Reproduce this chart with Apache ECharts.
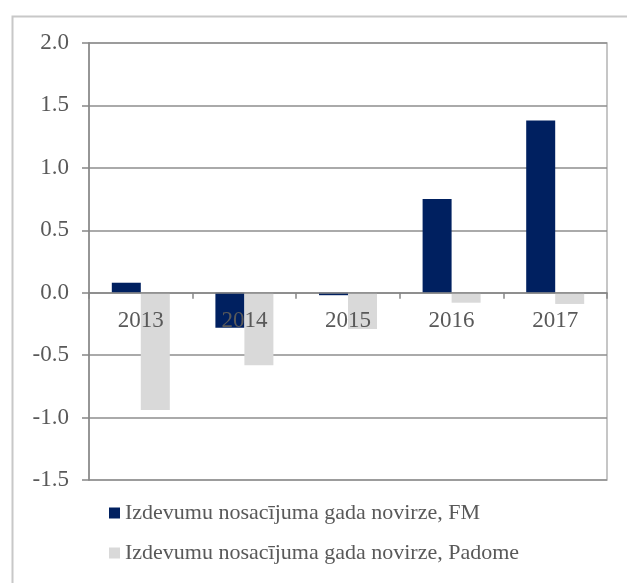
<!DOCTYPE html>
<html>
<head>
<meta charset="utf-8">
<script src="https://cdn.jsdelivr.net/npm/echarts@6/dist/echarts.min.js"></script>
<style>
html,body{margin:0;padding:0;background:#fff;}
#c{width:627px;height:583px;}
</style>
</head>
<body>
<div id="c"></div>
<script>
var categories = ['2013', '2014', '2015', '2016', '2017'];
var seriesNames = ['Izdevumu nosacījuma gada novirze, FM', 'Izdevumu nosacījuma gada novirze, Padome'];
var fmValues = [0.08, -0.28, -0.02, 0.75, 1.38];
var padomeValues = [-0.94, -0.58, -0.29, -0.08, -0.09];
var yMin = -1.5, yMax = 2.0, yStep = 0.5;

var font = 'Liberation Serif, Times New Roman, serif';
var chart = echarts.init(document.getElementById('c'), null, {renderer: 'canvas'});
var option = {
  animation: false,
  backgroundColor: '#ffffff',
  graphic: [{
    type: 'rect', left: 10, top: 14, z: 0,
    shape: {width: 700, height: 700},
    style: {fill: 'none', stroke: '#c8c8c8', lineWidth: 2}
  }],
  grid: {left: 89, right: 20, top: 43, bottom: 103, show: true, borderColor: '#b4b4b4', borderWidth: 1.5, backgroundColor: 'transparent'},
  legend: {
    orient: 'vertical', left: 104, top: 497,
    itemWidth: 11, itemHeight: 11, itemGap: 18,
    icon: 'rect',
    textStyle: {fontFamily: font, fontSize: 22, color: '#595959'},
    data: seriesNames
  },
  xAxis: {
    type: 'category', data: categories, z: 10,
    offset: 0,
    axisLine: {onZero: false, lineStyle: {color: '#868686', width: 1.5}},
    axisTick: {show: true, inside: false, length: 6, lineStyle: {color: '#868686', width: 1.5}},
    axisLabel: {fontFamily: font, fontSize: 23, color: '#595959', margin: 17},
    splitLine: {show: false}
  },
  yAxis: {
    type: 'value', min: yMin, max: yMax, interval: yStep,
    axisLine: {show: true, lineStyle: {color: '#868686', width: 1.5}},
    axisTick: {show: true, inside: false, length: 7, lineStyle: {color: '#868686', width: 1.5}},
    axisLabel: {fontFamily: font, fontSize: 23, color: '#595959', margin: 20, formatter: function (v) { return v.toFixed(1); }},
    splitLine: {show: true, lineStyle: {color: '#8e8e8e', width: 1.5}}
  },
  series: [
    {name: seriesNames[0], type: 'bar', data: fmValues, barWidth: 29, barGap: '0%', itemStyle: {color: '#002060'}},
    {name: seriesNames[1], type: 'bar', data: padomeValues, barWidth: 29, barGap: '0%', itemStyle: {color: '#d9d9d9'}}
  ]
};
chart.setOption(option);
// move the category axis (line, ticks, labels) up to the y = 0 position
var zeroPx = chart.convertToPixel({yAxisIndex: 0}, 0);
var bottomPx = chart.convertToPixel({yAxisIndex: 0}, yMin);
chart.setOption({xAxis: {offset: zeroPx - bottomPx}});
</script>
</body>
</html>
